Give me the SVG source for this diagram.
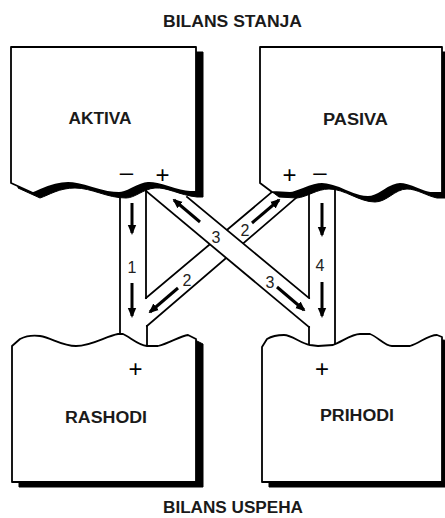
<svg xmlns="http://www.w3.org/2000/svg" width="445" height="518" viewBox="0 0 445 518">
<style>
  .lbl { font-family: "Liberation Sans", Arial, sans-serif; font-size: 16px; font-weight: bold; fill: #1a1a1a; text-anchor: middle; }
  .sign { font-family: "Liberation Sans", Arial, sans-serif; font-size: 24px; fill: #000; text-anchor: middle; }
  .num { font-family: "Liberation Sans", Arial, sans-serif; font-size: 16px; fill: #222; text-anchor: middle; }
  .box { fill: #fff; stroke: #000; stroke-width: 1.8; stroke-linejoin: round; }
  .shadow { fill: #000; stroke: #000; stroke-width: 1; }
  .edge { fill: none; stroke: #000; stroke-width: 1.8; stroke-linecap: square; }
  .cover { fill: #fff; stroke: none; }
  .arrow { fill: none; stroke: #000; stroke-width: 3; marker-end: url(#head); }
</style>
<defs>
  <marker id="head" markerUnits="userSpaceOnUse" markerWidth="10" markerHeight="10" viewBox="0 0 10 10" refX="8" refY="5" orient="auto">
    <path d="M0,0.8 L10,5 L0,9.2 Z" fill="#000"/>
  </marker>
</defs>

<text class="lbl" x="232.5" y="27" textLength="139" lengthAdjust="spacingAndGlyphs">BILANS STANJA</text>
<text class="lbl" x="233" y="513" textLength="140" lengthAdjust="spacingAndGlyphs">BILANS USPEHA</text>

<g id="connectors">
  <!-- band 2 (PASIVA to RASHODI) -->
  <line class="edge" x1="146" y1="298" x2="272" y2="192"/>
  <line class="edge" x1="147" y1="326" x2="296" y2="198"/>
  <line class="edge" x1="147" y1="326" x2="147" y2="350"/>
  <!-- channel 1 -->
  <line class="edge" x1="120" y1="186" x2="120" y2="340"/>
  <line class="edge" x1="146" y1="186" x2="146" y2="298"/>
  <!-- channel 4 -->
  <line class="edge" x1="335" y1="186" x2="335" y2="350"/>
  <line class="edge" x1="309" y1="186" x2="309" y2="298"/>
  <!-- band 3 (AKTIVA to PRIHODI), drawn over band 2 -->
  <polygon class="cover" points="146,191 187,197 309,298 309,327"/>
  <line class="edge" x1="146" y1="191" x2="309" y2="327"/>
  <line class="edge" x1="309" y1="327" x2="309" y2="350"/>
  <line class="edge" x1="187" y1="197" x2="309" y2="298"/>
  <!-- arrows -->
  <line class="arrow" x1="132" y1="203" x2="132" y2="233"/>
  <line class="arrow" x1="132" y1="283" x2="132" y2="316"/>
  <line class="arrow" x1="322" y1="203" x2="322" y2="235"/>
  <line class="arrow" x1="322" y1="282" x2="322" y2="316"/>
  <line class="arrow" x1="200" y1="222" x2="174" y2="200"/>
  <line class="arrow" x1="277" y1="287" x2="304" y2="310"/>
  <line class="arrow" x1="252" y1="223" x2="279" y2="200"/>
  <line class="arrow" x1="178" y1="288" x2="150" y2="312"/>
  <!-- numbers -->
  <text class="num" x="132" y="273">1</text>
  <text class="num" x="320" y="271">4</text>
  <text class="num" x="216" y="243">3</text>
  <text class="num" x="245" y="236">2</text>
  <text class="num" x="187" y="286">2</text>
  <text class="num" x="270" y="288">3</text>
</g>

<g id="aktiva">
  <path class="shadow" transform="translate(7,5)" d="M11,47 H196 V192 L190,192 C172,190 160,182 148,183 C136,184 128,193 119,193 C100,193 85,183 68,183 C52,183 42,190 33,193 L11,183 Z"/>
  <path class="box" d="M11,47 H196 V192 L190,192 C172,190 160,182 148,183 C136,184 128,193 119,193 C100,193 85,183 68,183 C52,183 42,190 33,193 L11,183 Z"/>
  <text class="lbl" x="100" y="124" textLength="63" lengthAdjust="spacingAndGlyphs">AKTIVA</text>
  <text class="sign" x="126.5" y="180">–</text>
  <text class="sign" x="162.5" y="182.5">+</text>
</g>

<g id="pasiva">
  <path class="shadow" transform="translate(7,5)" d="M260,47 H442 V193 L430,193 C420,191 410,184 400,184 C388,184 380,197 368,197 C352,197 338,184 322,184 C310,184 300,192 290,193 L272,192 L260,183 Z"/>
  <path class="box" d="M260,47 H442 V193 L430,193 C420,191 410,184 400,184 C388,184 380,197 368,197 C352,197 338,184 322,184 C310,184 300,192 290,193 L272,192 L260,183 Z"/>
  <text class="lbl" x="355.5" y="125" textLength="65" lengthAdjust="spacingAndGlyphs">PASIVA</text>
  <text class="sign" x="289.5" y="182.5">+</text>
  <text class="sign" x="320" y="180">–</text>
</g>

<g id="rashodi">
  <path class="shadow" transform="translate(7,5)" d="M12,482 V346 L20,339 C26,336 33,335 40,336 C52,338 62,346 76,346 C92,346 106,336 118,334 L123,334 C130,337 138,345 147,346 L158,346 C170,343 180,336 188,335 L196,339 V482 Z"/>
  <path class="box" d="M12,482 V346 L20,339 C26,336 33,335 40,336 C52,338 62,346 76,346 C92,346 106,336 118,334 L123,334 C130,337 138,345 147,346 L158,346 C170,343 180,336 188,335 L196,339 V482 Z"/>
  <text class="lbl" x="106" y="423" textLength="82" lengthAdjust="spacingAndGlyphs">RASHODI</text>
  <text class="sign" x="135.5" y="377">+</text>
</g>

<g id="prihodi">
  <path class="shadow" transform="translate(7,5)" d="M262,482 V347 L267,339 C272,336 278,335 284,335 C292,335 300,343 310,345 L318,346 L333,345 C343,341 352,334 360,334 L370,334 C378,337 385,346 392,346 L410,346 C420,343 428,335 437,335 L442,337 V482 Z"/>
  <path class="box" d="M262,482 V347 L267,339 C272,336 278,335 284,335 C292,335 300,343 310,345 L318,346 L333,345 C343,341 352,334 360,334 L370,334 C378,337 385,346 392,346 L410,346 C420,343 428,335 437,335 L442,337 V482 Z"/>
  <text class="lbl" x="357" y="421" textLength="74" lengthAdjust="spacingAndGlyphs">PRIHODI</text>
  <text class="sign" x="322" y="377">+</text>
</g>
</svg>
